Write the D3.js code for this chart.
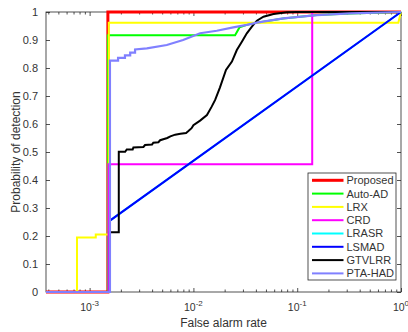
<!DOCTYPE html>
<html>
<head>
<meta charset="utf-8">
<script src="https://cdn.jsdelivr.net/npm/d3@7/dist/d3.min.js"></script>
<style>
html,body{margin:0;padding:0;background:#fff;}
svg{display:block;}
text{font-family:"Liberation Sans",Arial,Helvetica,sans-serif;fill:#333;}
</style>
</head>
<body>
<svg id="chart" width="408" height="332"></svg>
<script>
// ---------------- data ----------------
const seriesNames = ["Proposed","Auto-AD","LRX","CRD","LRASR","LSMAD","GTVLRR","PTA-HAD"];

const proposedFar = [3.8e-4, 1.5e-3, 1.5e-3, 1];
const proposedPd  = [0, 0, 1, 1];

const autoAdFar = [3.8e-4, 1.5e-3, 1.5e-3, 2.52e-2, 2.78e-2, 3.27e-2, 4.09e-2, 7.33e-2, 0.155, 0.324, 1];
const autoAdPd  = [0, 0, 0.917, 0.917, 0.945, 0.954, 0.962, 0.977, 0.989, 0.995, 1];

const lrxFar = [3.8e-4, 7.56e-4, 7.56e-4, 1.146e-3, 1.146e-3, 1.53e-3, 1.53e-3, 0.942, 1];
const lrxPd  = [0, 0, 0.195, 0.195, 0.205, 0.205, 0.962, 0.962, 1];

const crdFar = [3.8e-4, 1.52e-3, 1.52e-3, 0.1395, 0.1395, 1];
const crdPd  = [0, 0, 0.456, 0.456, 1, 1];

const lrasrFar = [3.8e-4, 1.57e-3, 1.57e-3, 1];
const lrasrPd  = [0, 0, 0.255, 1];

const lsmadFar = [3.8e-4, 1.57e-3, 1.57e-3, 1];
const lsmadPd  = [0, 0, 0.255, 1];

const gtvlrrFar = [3.8e-4, 1.57e-3, 1.57e-3, 1.91e-3, 1.91e-3, 2.2e-3, 2.28e-3, 2.6e-3, 2.64e-3, 3.3e-3, 3.42e-3,
  4.0e-3, 4.11e-3, 4.6e-3, 4.78e-3, 5.6e-3, 6.0e-3, 6.67e-3, 7.5e-3, 8.5e-3, 8.95e-3, 9.6e-3, 1.0e-2, 1.16e-2,
  1.35e-2, 1.5e-2, 1.62e-2, 1.8e-2, 2.06e-2, 2.35e-2, 2.62e-2, 2.93e-2, 3.27e-2, 3.66e-2, 4.09e-2, 4.73e-2,
  5.91e-2, 7.96e-2, 9.93e-2, 1];
const gtvlrrPd = [0, 0, 0.213, 0.213, 0.501, 0.501, 0.509, 0.509, 0.516, 0.518, 0.525,
  0.527, 0.533, 0.535, 0.542, 0.55, 0.556, 0.562, 0.565, 0.568, 0.575, 0.585, 0.596, 0.612,
  0.632, 0.662, 0.686, 0.73, 0.793, 0.823, 0.864, 0.894, 0.924, 0.948, 0.969, 0.983,
  0.993, 0.999, 1, 1];

const ptaHadFar = [3.8e-4, 1.57e-3, 1.57e-3, 1.88e-3, 1.88e-3, 2.19e-3, 2.19e-3, 2.46e-3, 2.46e-3, 2.74e-3, 2.74e-3,
  3.56e-3, 5.54e-3, 7.96e-3, 1.16e-2, 1.68e-2, 2.42e-2, 3.27e-2, 4.09e-2, 7.33e-2, 0.155, 0.324, 1];
const ptaHadPd  = [0, 0, 0.826, 0.826, 0.836, 0.836, 0.845, 0.845, 0.855, 0.855, 0.866,
  0.87, 0.882, 0.9, 0.924, 0.933, 0.945, 0.954, 0.962, 0.977, 0.989, 0.995, 1];

const xMajorTicks = [1e-3, 1e-2, 1e-1, 1];
const xTickExponents = ["-3", "-2", "-1", "0"];
const yTicks = [0, 0.1, 0.2, 0.3, 0.4, 0.5, 0.6, 0.7, 0.8, 0.9, 1];
const yTickLabels = ["0", "0.1", "0.2", "0.3", "0.4", "0.5", "0.6", "0.7", "0.8", "0.9", "1"];
const xDomain = [3.8e-4, 1];
const yDomain = [0, 1];

// ---------------- styles ----------------
const seriesColors = ["#ff0000", "#00ff00", "#ffff00", "#ff00ff", "#00ffff", "#0000ff", "#000000", "#8080ff"];
const seriesWidths = [3, 2, 2, 2, 2, 2, 2, 2.2];

// ---------------- layout ----------------
const L = 46, R = 401, T = 12, B = 292;
const svg = d3.select("#chart");
svg.append("rect").attr("width", 408).attr("height", 332).attr("fill", "#fff");

const x = d3.scaleLog().domain(xDomain).range([L, R]);
const y = d3.scaleLinear().domain(yDomain).range([B, T]);

const axisColor = "#262626";
const minorTicks = x.ticks().filter(v => !xMajorTicks.some(m => Math.abs(m - v) / m < 1e-9));

function styleAxis(g) {
  g.select(".domain").remove();
  g.selectAll("line").attr("stroke", axisColor).attr("stroke-width", 0.8);
}

// box
svg.append("rect").attr("x", L).attr("y", T).attr("width", R - L).attr("height", B - T)
  .attr("fill", "none").attr("stroke", axisColor).attr("stroke-width", 0.8);

// x axis bottom: minor + major
svg.append("g").attr("transform", `translate(0,${B})`)
  .call(d3.axisBottom(x).tickValues(minorTicks).tickSize(-2.5).tickFormat(""))
  .call(styleAxis);
svg.append("g").attr("transform", `translate(0,${B})`)
  .call(d3.axisBottom(x).tickValues(xMajorTicks).tickSize(-4).tickPadding(0).tickFormat(""))
  .call(styleAxis);
// top
svg.append("g").attr("transform", `translate(0,${T})`)
  .call(d3.axisTop(x).tickValues(minorTicks).tickSize(-2.5).tickFormat(""))
  .call(styleAxis);
svg.append("g").attr("transform", `translate(0,${T})`)
  .call(d3.axisTop(x).tickValues(xMajorTicks).tickSize(-4).tickFormat(""))
  .call(styleAxis);

// x major labels with superscripts
const xl = svg.append("g").selectAll("text").data(xMajorTicks).join("text")
  .attr("x", d => x(d)).attr("y", 311).attr("text-anchor", "middle")
  .style("font-size", "10.5px");
xl.append("tspan").text("10");
xl.append("tspan").attr("dy", -5).style("font-size", "8px").text((d, i) => xTickExponents[i]);

// y axis left / right
svg.append("g").attr("transform", `translate(${L},0)`)
  .call(d3.axisLeft(y).tickValues(yTicks).tickSize(-4).tickPadding(8).tickFormat((d, i) => yTickLabels[i]))
  .call(styleAxis)
  .call(g => g.selectAll("text").style("font-size", "11px").attr("fill", "#333"));
svg.append("g").attr("transform", `translate(${R},0)`)
  .call(d3.axisRight(y).tickValues(yTicks).tickSize(-4).tickFormat(""))
  .call(styleAxis);

// axis titles
svg.append("text").attr("x", (L + R) / 2).attr("y", 327).attr("text-anchor", "middle")
  .style("font-size", "12px").text("False alarm rate");
svg.append("text").attr("transform", `translate(20,${(T + B) / 2}) rotate(-90)`)
  .attr("text-anchor", "middle").style("font-size", "12px").text("Probability of detection");

// ---------------- lines ----------------
const seriesData = [
  [proposedFar, proposedPd], [autoAdFar, autoAdPd], [lrxFar, lrxPd], [crdFar, crdPd],
  [lrasrFar, lrasrPd], [lsmadFar, lsmadPd], [gtvlrrFar, gtvlrrPd], [ptaHadFar, ptaHadPd]
].map(([f, p]) => f.map((v, i) => ({far: v, pd: p[i]})));

const line = d3.line().x(d => x(d.far)).y(d => y(d.pd));
svg.append("g").selectAll("path").data(seriesData).join("path")
  .attr("d", line).attr("fill", "none")
  .attr("stroke", (d, i) => seriesColors[i])
  .attr("stroke-width", (d, i) => seriesWidths[i])
  .attr("stroke-linejoin", "miter");

// ---------------- legend ----------------
const lgX = 308, lgY = 173, lgW = 88, lgH = 107, rowH = 13.3;
const lg = svg.append("g");
lg.append("rect").attr("x", lgX).attr("y", lgY).attr("width", lgW).attr("height", lgH)
  .attr("fill", "#fff").attr("stroke", axisColor).attr("stroke-width", 0.8);
const rows = lg.selectAll("g.row").data(seriesNames).join("g").attr("class", "row")
  .attr("transform", (d, i) => `translate(0,${lgY + 7.3 + i * rowH})`);
rows.append("line").attr("x1", 312).attr("x2", 343.5).attr("y1", 0).attr("y2", 0)
  .attr("stroke", (d, i) => seriesColors[i]).attr("stroke-width", (d, i) => i === 0 ? 3 : 2);
rows.append("text").attr("x", 346.5).attr("y", 0).attr("dy", "0.36em")
  .style("font-size", "11px").text(d => d);
</script>
</body>
</html>
